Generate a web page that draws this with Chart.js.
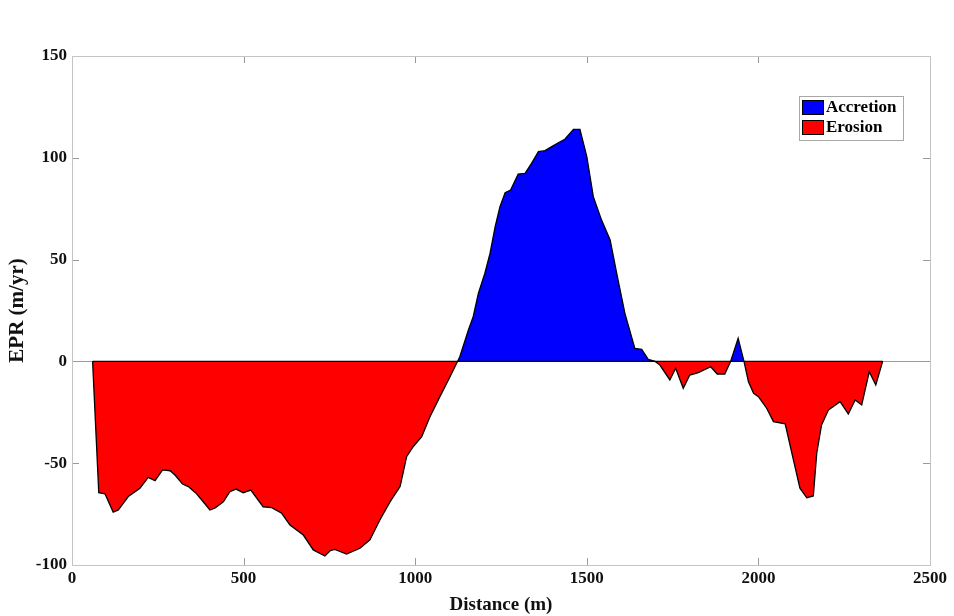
<!DOCTYPE html>
<html>
<head>
<meta charset="utf-8">
<script src="https://cdn.jsdelivr.net/npm/chart.js@4"></script>
<style>
  html, body { margin: 0; padding: 0; background: #fff; }
  #wrap { width: 954px; height: 616px; }
</style>
</head>
<body>
<div id="wrap"><canvas id="eprChart" width="954" height="616"></canvas></div>
<script>
// data (distance along shore, end point rate)
const distance = [60, 78, 96, 120, 135, 164, 198, 222, 242, 264, 286, 300, 322, 339, 363, 402, 417, 441, 460, 478, 499, 521, 557, 582, 611, 635, 674, 703, 737, 752, 766, 800, 839, 868, 897, 927, 956, 975, 994, 1019, 1043, 1072, 1100,
  1130, 1155, 1169, 1184, 1203, 1218, 1233, 1247, 1262, 1278, 1300, 1320, 1339, 1359, 1378, 1398, 1417, 1436, 1461, 1480, 1500, 1519, 1543, 1568, 1587, 1611, 1640, 1660, 1679, 1699,
  1713, 1742, 1759, 1781, 1800, 1825, 1861, 1880, 1902, 1919, 1941, 1958, 1971, 1986, 2000, 2024, 2044, 2078, 2102, 2121, 2141, 2160, 2170, 2184, 2204, 2238, 2262, 2282, 2301, 2323, 2342, 2362];
const epr = [0, -64.5, -65, -74, -73, -66.4, -62.3, -57, -58.6, -53.3, -53.7, -55.8, -60.2, -61.5, -65, -73, -72, -69, -64, -62.7, -64.5, -63.2, -71.4, -71.8, -74.6, -80.4, -85.3, -92.6, -95.6, -93, -92.3, -94.6, -91.8, -87.7, -77.9, -68.9, -61.5, -46.8, -41.9, -37, -27.2, -17.3, -8,
  2.3, 15.4, 22, 33.4, 43.3, 53, 66.2, 76, 82.9, 84.2, 92, 92.4, 97.3, 103, 103.5, 105.5, 107.4, 109.1, 114, 114, 100.6, 80.9, 69.4, 59.6, 43.3, 23.6, 6.4, 5.9, 1, 0,
  -1.8, -9.1, -3.4, -13.2, -6.7, -5.5, -2.6, -6.2, -6.2, 0, 11.3, 0, -10, -15.7, -17.3, -23, -29.6, -30.7, -48.4, -62.3, -67, -66.1, -45.1, -31.2, -23.9, -19.8, -25.8, -19, -21.4, -5.1, -11.6, 0];

const seriesNames = ['Accretion', 'Erosion'];
const seriesColors = ['#0000ff', '#ff0000'];
const xTicks = [0, 500, 1000, 1500, 2000, 2500];
const yTicks = [-100, -50, 0, 50, 100, 150];

const FONT = "'Liberation Serif', 'Times New Roman', serif";
const BOX = '#c4c4c4';

// MATLAB style box with inward ticks on all four sides
const boxTicks = {
    id: 'boxTicks',
    afterDraw(chart) {
        const { ctx, chartArea: a, scales } = chart;
        ctx.save();
        ctx.strokeStyle = '#9a9a9a';
        ctx.lineWidth = 1;
        ctx.beginPath();
        xTicks.forEach(v => {
            const px = Math.round(scales.x.getPixelForValue(v)) + 0.5;
            ctx.moveTo(px, a.bottom); ctx.lineTo(px, a.bottom - 7);
            ctx.moveTo(px, a.top); ctx.lineTo(px, a.top + 7);
        });
        yTicks.forEach(v => {
            const py = Math.round(scales.y.getPixelForValue(v)) + 0.5;
            ctx.moveTo(a.left, py); ctx.lineTo(a.left + 7, py);
            ctx.moveTo(a.right, py); ctx.lineTo(a.right - 7, py);
        });
        ctx.stroke();
        ctx.strokeStyle = BOX;
        ctx.strokeRect(Math.round(a.left) + 0.5, Math.round(a.top) + 0.5, Math.round(a.right - a.left), Math.round(a.bottom - a.top));
        ctx.restore();
    }
};

// legend drawn inside the axes, top right
const boxLegend = {
    id: 'boxLegend',
    afterDraw(chart) {
        const { ctx, chartArea: a } = chart;
        const w = 104, h = 44;
        const x0 = a.right - 27, y0 = a.top + 40;
        ctx.save();
        ctx.fillStyle = '#fff';
        ctx.fillRect(x0 - w, y0, w, h);
        ctx.strokeStyle = '#a8a8a8';
        ctx.lineWidth = 1;
        ctx.strokeRect(x0 - w + 0.5, y0 + 0.5, w, h);
        ctx.font = 'bold 17px ' + FONT;
        ctx.textBaseline = 'middle';
        seriesNames.forEach((name, i) => {
            const yy = y0 + 4 + i * 20;
            ctx.fillStyle = seriesColors[i];
            ctx.fillRect(x0 - w + 3, yy, 21, 14);
            ctx.strokeStyle = '#000';
            ctx.strokeRect(x0 - w + 3.5, yy + 0.5, 21, 14);
            ctx.fillStyle = '#000';
            ctx.fillText(name, x0 - w + 27, yy + 8);
        });
        ctx.restore();
    }
};

const profile = distance.map((d, i) => ({ x: d, y: epr[i] }));

const config = {
    type: 'line',
    data: {
        datasets: [{
            label: 'baseline',
            data: [{ x: distance[0], y: 0 }, { x: distance[distance.length - 1], y: 0 }],
            borderColor: '#000',
            borderWidth: 1.2,
            pointRadius: 0,
            fill: false
        }, {
            label: seriesNames.join(' / '),
            data: profile,
            borderColor: '#000',
            borderWidth: 1.3,
            pointRadius: 0,
            tension: 0,
            fill: {
                target: 'origin',
                above: seriesColors[0],
                below: seriesColors[1]
            }
        }]
    },
    options: {
        responsive: false,
        animation: false,
        layout: { padding: { top: 56, right: 24, left: 0, bottom: 0 } },
        plugins: {
            legend: { display: false },
            tooltip: { enabled: false }
        },
        scales: {
            x: {
                type: 'linear',
                min: 0,
                max: 2500,
                afterBuildTicks: s => { s.ticks = xTicks.map(v => ({ value: v })); },
                afterFit: s => { s.height = 51; },
                grid: { display: false, drawTicks: false },
                border: { display: true, color: BOX },
                ticks: {
                    color: '#111',
                    padding: 3,
                    maxRotation: 0,
                    callback: v => String(v),
                    font: { family: FONT, size: 17, weight: 'bold' }
                },
                title: {
                    display: true,
                    text: 'Distance (m)',
                    color: '#111',
                    padding: { top: 0, bottom: 0 },
                    font: { family: FONT, size: 19, weight: 'bold' }
                }
            },
            y: {
                type: 'linear',
                min: -100,
                max: 150,
                afterBuildTicks: s => { s.ticks = yTicks.map(v => ({ value: v })); },
                afterFit: s => { s.width = 72; },
                grid: {
                    drawTicks: false,
                    color: c => (c.tick && c.tick.value === 0) ? '#9c9c9c' : 'rgba(0,0,0,0)',
                    lineWidth: 1
                },
                border: { display: true, color: BOX },
                ticks: {
                    color: '#111',
                    padding: 5,
                    callback: v => String(v),
                    font: { family: FONT, size: 17, weight: 'bold' }
                },
                title: {
                    display: true,
                    text: 'EPR (m/yr)',
                    color: '#111',
                    padding: { top: 5, bottom: 0 },
                    font: { family: FONT, size: 21, weight: 'bold' }
                }
            }
        }
    },
    plugins: [boxTicks, boxLegend]
};

var ctx = document.getElementById('eprChart').getContext('2d');
var eprChart = new Chart(ctx, config);
</script>
</body>
</html>
